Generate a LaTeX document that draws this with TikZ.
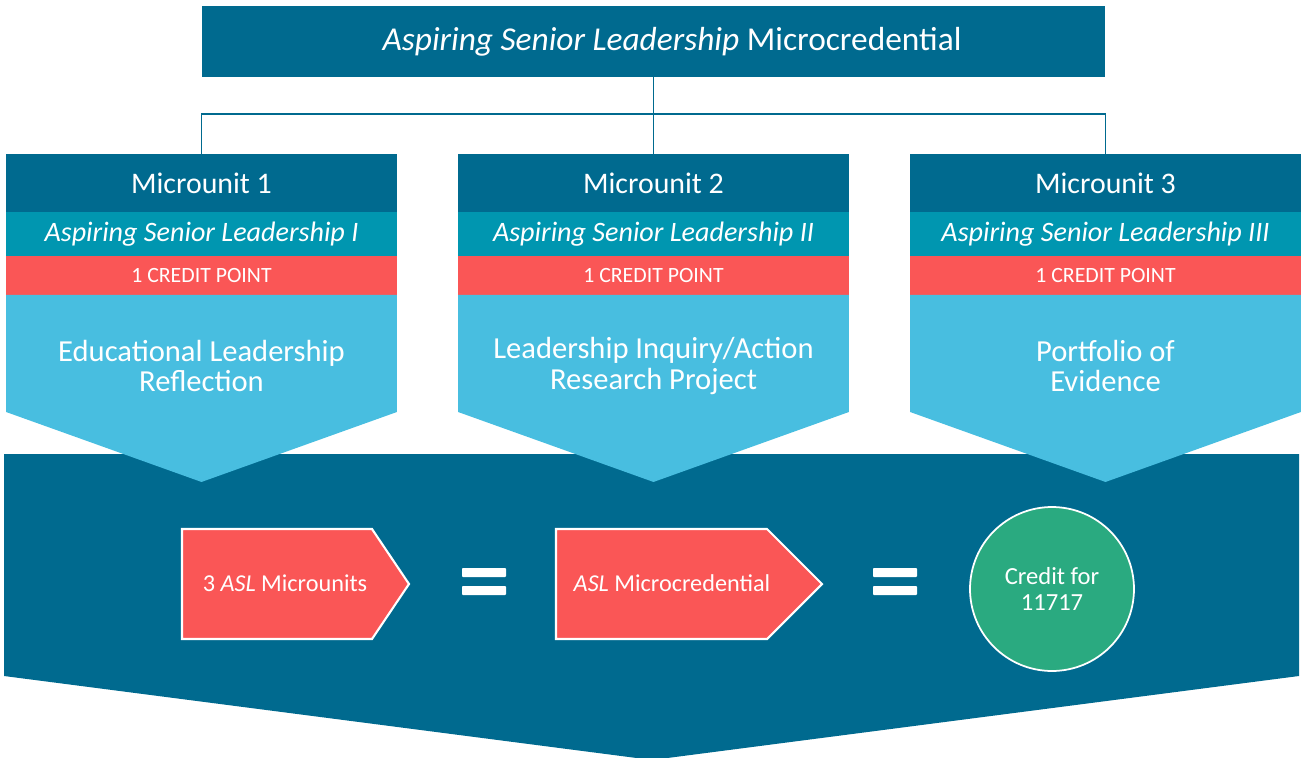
\documentclass[tikz,border=0pt]{standalone}
\usepackage{fontspec}
\setmainfont{Carlito}
\usetikzlibrary{positioning,calc}
\definecolor{darkblue}{RGB}{0,106,143}
\definecolor{subteal}{RGB}{0,150,176}
\definecolor{creditred}{RGB}{250,86,86}
\definecolor{lightblue}{RGB}{72,190,224}
\definecolor{creditgreen}{RGB}{42,170,128}
\tikzset{
    band/.style={rectangle, outer sep=0pt, inner sep=0pt, minimum width=7.82cm, text=white},
    headband/.style={band, fill=darkblue, minimum height=1.16cm, font=\fontsize{17}{18}\selectfont},
    subband/.style={band, fill=subteal, minimum height=0.88cm, font=\fontsize{16}{17}\selectfont\itshape},
    creditband/.style={band, fill=creditred, minimum height=0.78cm, font=\fontsize{12.4}{14}\selectfont},
    bodytext/.style={text=white, align=center, font=\fontsize{17.4}{17.6}\selectfont},
    titlebox/.style={rectangle, fill=darkblue, text=white, minimum width=18.06cm, minimum height=1.42cm, font=\fontsize{19}{20}\selectfont},
    link/.style={draw=darkblue, line width=0.9pt},
    pentagon/.style={fill=creditred, draw=white, line width=1.2pt},
    pentext/.style={text=white, font=\fontsize{13.8}{15}\selectfont},
}
\def\Microunit#1#2#3#4{
    \node[headband, anchor=north] (head#1) at (#2,154) {Microunit #1};
    \node[subband, below=0pt of head#1] (sub#1) {Aspiring Senior Leadership #3};
    \node[creditband, below=0pt of sub#1] (credit#1) {1 CREDIT POINT};
    \fill[lightblue] (credit#1.south west) -- ++(0,117) -- ($(credit#1.south)+(0,187)$)
        -- ($(credit#1.south east)+(0,117)$) -- (credit#1.south east) -- cycle;
    \node[bodytext] (body#1) at ($(credit#1.south)+(0,71)$) {#4};
}
\begin{document}
\begin{tikzpicture}[x=0.02cm, y=-0.02cm]
    \useasboundingbox (0,0) rectangle (1303,758);

    \node[titlebox] (title) at (653.5,41.5) {\hspace*{0.74cm}\textit{Aspiring Senior Leadership} Microcredential};

    % big arrow underneath
    \fill[darkblue] (4,454) -- (1299,454) -- (1299,676) -- (652,760) -- (4,676) -- cycle;

    \Microunit{1}{201.5}{I}{Educational Leadership\\Reflection}
    \Microunit{2}{653.5}{II}{Leadership Inquiry/Action\\Research Project}
    \Microunit{3}{1105.5}{III}{Portfolio of\\Evidence}

    \coordinate (bus) at (653.5,114);
    \draw[link] (title) -- (head2);
    \draw[link] (head1) |- (bus) -| (head3);

    \filldraw[pentagon] (182,529) -- (372,529) -- (409,584) -- (372,639) -- (182,639) -- cycle;
    \node[pentext] (units) at (285,583) {3 \textit{ASL} Microunits};
    \filldraw[pentagon] (556,529) -- (767,529) -- (822,584) -- (767,639) -- (556,639) -- cycle;
    \node[pentext] (credential) at (672,583) {\textit{ASL} Microcredential};

    % equals signs
    \foreach \x in {462,873} {
        \fill[white, rounded corners=0.5pt] (\x,568) rectangle ++(44,9);
        \fill[white, rounded corners=0.5pt] (\x,586) rectangle ++(44,9);
    }

    \node[circle, fill=creditgreen, draw=white, line width=1pt, minimum size=3.28cm,
          text=white, align=center, font=\fontsize{14}{14.5}\selectfont] (result) at (1052,589) {Credit for\\11717};
\end{tikzpicture}
\end{document}
